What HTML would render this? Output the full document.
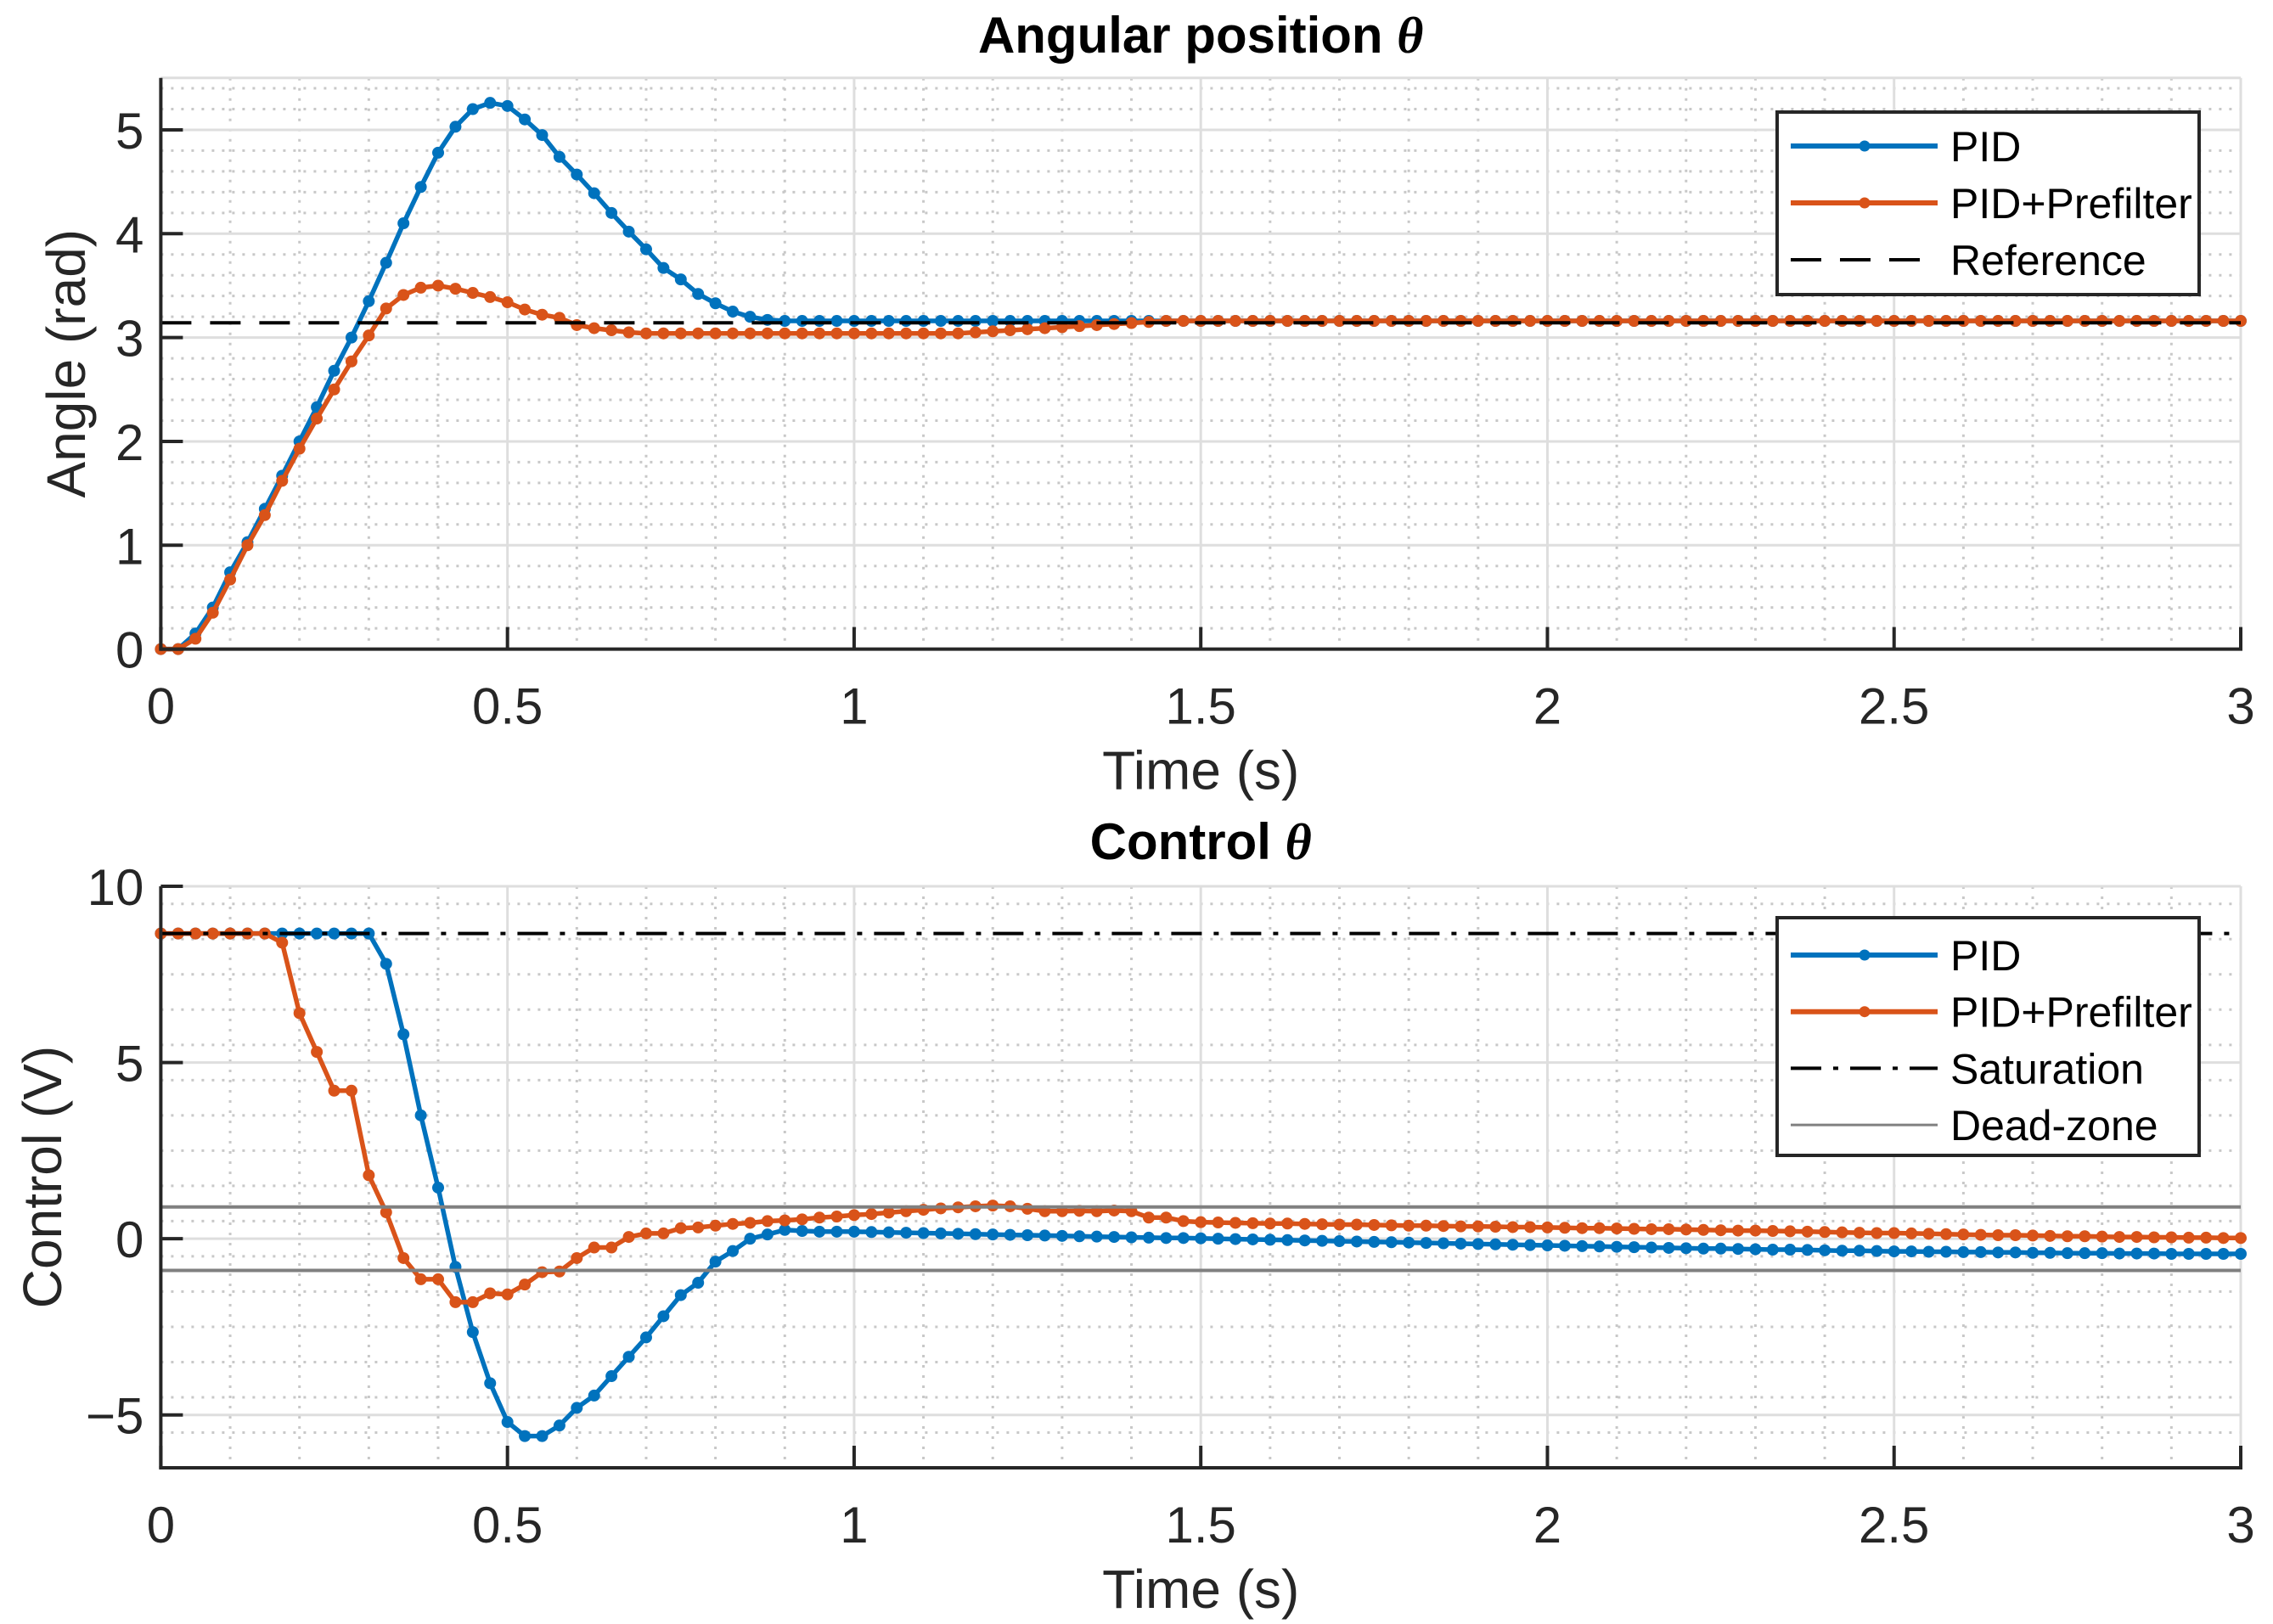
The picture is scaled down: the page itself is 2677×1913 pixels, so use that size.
<!DOCTYPE html>
<html><head><meta charset="utf-8"><style>
html,body{margin:0;padding:0;background:#fff;}
svg{display:block;font-family:"Liberation Sans",Arial,sans-serif;}
</style></head><body>
<svg id="fig" xmlns="http://www.w3.org/2000/svg" width="2677" height="1913" viewBox="0 0 2677 1913"></svg>
<script>
// ---- data (t = index * dt) ----
const dt = 0.025;
const angPID = [0,0,0.15,0.4,0.74,1.03,1.35,1.67,2.0,2.33,2.68,3.0,3.35,3.72,4.1,4.45,4.78,5.03,5.2,5.26,5.23,5.1,4.95,4.74,4.57,4.39,4.2,4.02,3.85,3.67,3.56,3.42,3.33,3.25,3.2,3.17,
3.16,3.16,3.16,3.16,3.16,3.16,3.16,3.16,3.16,3.16,3.16,3.16,3.16,3.16,3.16,3.16,3.16,3.16,3.16,3.16,3.16,3.16,3.16,3.16,3.16,3.16,3.16,3.16,3.16,3.16,3.16,3.16,3.16,3.16,
3.16,3.16,3.16,3.16,3.16,3.16,3.16,3.16,3.16,3.16,3.16,3.16,3.16,3.16,3.16,3.16,3.16,3.16,3.16,3.16,3.16,3.16,3.16,3.16,3.16,3.16,3.16,3.16,3.16,3.16,
3.16,3.16,3.16,3.16,3.16,3.16,3.16,3.16,3.16,3.16,3.16,3.16,3.16,3.16,3.16,3.16,3.16,3.16,3.16,3.16,3.16];
const angPre = [0,0,0.1,0.35,0.67,1.0,1.29,1.62,1.93,2.22,2.5,2.77,3.02,3.28,3.41,3.48,3.5,3.47,3.43,3.39,3.34,3.27,3.22,3.19,3.12,3.09,3.07,3.05,
3.04,3.04,3.04,3.04,3.04,3.04,3.04,3.04,3.04,3.04,3.04,3.04,3.04,3.04,3.04,3.04,3.04,3.04,3.04,
3.05,3.06,3.07,3.08,3.09,3.1,3.11,3.12,3.13,3.14,3.15,
3.16,3.16,3.16,3.16,3.16,3.16,3.16,3.16,3.16,3.16,3.16,3.16,3.16,3.16,3.16,3.16,3.16,3.16,3.16,3.16,3.16,3.16,3.16,3.16,3.16,3.16,3.16,3.16,3.16,3.16,
3.16,3.16,3.16,3.16,3.16,3.16,3.16,3.16,3.16,3.16,3.16,3.16,3.16,3.16,3.16,3.16,3.16,3.16,3.16,3.16,3.16,3.16,3.16,3.16,3.16,3.16,3.16,3.16,3.16,3.16,3.16,3.16,3.16];
const angRef = 3.1416;
const ctlPID = [8.66,8.66,8.66,8.66,8.66,8.66,8.66,8.66,8.66,8.66,8.66,8.66,8.66,
7.8,5.8,3.5,1.45,-0.8,-2.65,-4.1,-5.2,-5.6,-5.6,-5.3,-4.8,-4.45,-3.9,-3.35,-2.8,-2.2,-1.6,-1.25,-0.65,-0.35,0.0,0.12,0.25,0.22,0.2,0.2,0.2,
0.19,0.18,0.17,0.16,0.15,0.14,0.13,0.12,0.11,0.10,0.09,0.08,0.07,0.06,0.05,0.04,0.03,0.02,0.02,0.01,
0.00,-0.01,-0.02,-0.03,-0.04,-0.05,-0.06,-0.07,-0.08,-0.09,-0.10,-0.11,-0.12,-0.13,-0.14,-0.15,-0.16,-0.17,-0.18,-0.19,
-0.20,-0.21,-0.22,-0.23,-0.24,-0.25,-0.26,-0.27,-0.28,-0.28,-0.29,-0.30,-0.31,-0.31,-0.32,-0.33,-0.34,-0.34,-0.35,-0.36,
-0.36,-0.37,-0.37,-0.38,-0.38,-0.39,-0.39,-0.40,-0.40,-0.41,-0.41,-0.41,-0.42,-0.42,-0.42,-0.43,-0.43,-0.43,-0.43,-0.43];
const ctlPre = [8.66,8.66,8.66,8.66,8.66,8.66,8.66,
8.4,6.4,5.3,4.2,4.2,1.8,0.75,-0.55,-1.15,-1.15,-1.8,-1.8,-1.55,-1.58,-1.3,-0.95,-0.93,-0.55,-0.25,-0.25,0.05,0.15,0.15,0.3,0.32,0.37,0.42,0.45,0.5,0.52,0.55,
0.6,0.63,0.67,0.7,0.74,0.78,0.82,0.86,0.89,0.92,0.94,0.92,0.85,0.78,0.78,0.79,0.78,0.8,0.78,0.6,0.6,0.5,0.47,
0.46,0.45,0.44,0.43,0.43,0.42,0.41,0.40,0.40,0.39,0.38,0.37,0.37,0.36,0.35,0.35,0.34,0.33,0.33,0.32,
0.31,0.30,0.30,0.29,0.28,0.27,0.27,0.26,0.25,0.24,0.23,0.23,0.22,0.21,0.20,0.19,0.18,0.17,0.16,0.16,
0.15,0.14,0.13,0.12,0.11,0.10,0.10,0.09,0.08,0.07,0.07,0.06,0.05,0.05,0.04,0.04,0.03,0.03,0.02,0.02];
const satLevel = 8.66;
const deadZone = [0.9, -0.9];
const xTicks = [0,0.5,1,1.5,2,2.5,3];
const xTickLabels = ["0","0.5","1","1.5","2","2.5","3"];
const angTicks = [0,1,2,3,4,5];
const ctlTicks = [-5,0,5,10];
const ctlTickLabels = ["\u22125","0","5","10"];

// ---- drawing ----
const NS = "http://www.w3.org/2000/svg";
const svg = document.getElementById('fig');
function mk(tag, attrs, parent){
  const e = document.createElementNS(NS, tag);
  for (const k in attrs) e.setAttribute(k, attrs[k]);
  (parent||svg).appendChild(e);
  return e;
}
const BLUE="#0072BD", ORANGE="#D95319", AX="#262626";
const XL=189.4, XR=2639, TMAX=3;
function sx(t){ return XL + (t/TMAX)*(XR-XL); }

function drawAxes(cfg){
  const g = mk('g',{});
  
  
  const sy = v => cfg.y0 + (v - cfg.vmin)/(cfg.vmax - cfg.vmin)*(cfg.y1 - cfg.y0);
  const yTop = sy(cfg.vmax), yBot = sy(cfg.vmin);
  const mg = mk('g',{stroke:"#c8c8c8","stroke-width":3,"stroke-dasharray":"3 9"},g);
  
  
  for (let k=1;k<30;k++){ if(k%5===0) continue; const x=sx(k*0.1); mk('line',{x1:x,x2:x,y1:yTop,y2:yBot},mg); }
  for (let v=cfg.vmin; v<=cfg.vmax+1e-9; v+=cfg.minor){
    const r=Math.round(v*1000)/1000; if (Math.abs(r/cfg.major-Math.round(r/cfg.major))<1e-6) continue;
    mk('line',{x1:XL,x2:XR,y1:sy(r),y2:sy(r)},mg);
  }
  const Mg = mk('g',{stroke:"#dedede","stroke-width":3},g);
  
  
  xTicks.forEach(t=>{ if(t>0) mk('line',{x1:sx(t),x2:sx(t),y1:yTop,y2:yBot},Mg); });
  cfg.ticks.forEach(v=>mk('line',{x1:XL,x2:XR,y1:sy(v),y2:sy(v)},Mg));
  mk('line',{x1:XL,x2:XR,y1:yTop,y2:yTop},Mg);
  function series(arr,color,name){
    const a = arr.filter((v,i)=>i*dt <= TMAX+1e-9);
    const sg = mk('g',{},g);
    
    
    const pts = a.map((v,i)=>sx(i*dt).toFixed(1)+','+sy(v).toFixed(1)).join(' ');
    mk('polyline',{points:pts,fill:"none",stroke:color,"stroke-width":5.5,"stroke-linejoin":"round"},sg);
    a.forEach((v,i)=>{
      const c = mk('circle',{cx:sx(i*dt),cy:sy(v),r:7,fill:color},sg);
      
      
    });
  }
  cfg.draw(series, sy, g);
  const ag = mk('g',{stroke:AX,"stroke-width":4,fill:"none"},g);
  
  
  mk('line',{x1:XL,x2:XL,y1:yTop,y2:yBot+2},ag);
  mk('line',{x1:XL-2,x2:XR+2,y1:yBot,y2:yBot},ag);
  xTicks.forEach(t=>mk('line',{x1:sx(t),x2:sx(t),y1:yBot,y2:yBot-26},ag));
  cfg.ticks.forEach(v=>mk('line',{x1:XL,x2:XL+26,y1:sy(v),y2:sy(v)},ag));
  xTicks.forEach((t,i)=>{
    const tx = mk('text',{x:sx(t),y:yBot+88,"font-size":60,fill:AX,"text-anchor":"middle"},g);
    tx.textContent = xTickLabels[i];
    
    
  });
  cfg.ticks.forEach((v,i)=>{
    const tx = mk('text',{x:XL-20,y:sy(v)+22,"font-size":60,fill:AX,"text-anchor":"end"},g);
    tx.textContent = cfg.tickLabels[i];
    
    
  });
  const xt = mk('text',{x:(XL+XR)/2,y:yBot+165,"font-size":64,fill:AX,"text-anchor":"middle"},g);
  xt.textContent = "Time (s)";
  
  
  const ym = (yTop+yBot)/2;
  const yt = mk('text',{x:cfg.ylabX,y:ym,"font-size":64,fill:AX,"text-anchor":"middle",transform:`rotate(-90 ${cfg.ylabX} ${ym})`},g);
  yt.textContent = cfg.ylabel;
  
  
  const tt = mk('text',{x:(XL+XR)/2,y:cfg.titleY,"font-size":60,"font-weight":"bold",fill:"#000","text-anchor":"middle"},g);
  tt.textContent = cfg.title + " ";
  const th = mk('tspan',{"font-family":"Liberation Serif, serif","font-style":"italic"},tt);
  th.textContent = "\u03B8";
  
  
  const lg = mk('g',{},g);
  
  
  const L = cfg.legend;
  mk('rect',{x:2093,y:L.top,width:497,height:L.h,fill:"#fff",stroke:AX,"stroke-width":4},lg);
  L.items.forEach((it,i)=>{
    const y = L.y0 + i*L.step;
    const eg = mk('g',{},lg);
    
    
    mk('line',{x1:2109,x2:2282,y1:y,y2:y,stroke:it.c,"stroke-width":it.w,"stroke-dasharray":it.d||"none"},eg);
    if (it.m) mk('circle',{cx:2196,cy:y,r:6.5,fill:it.c},eg);
    const tx = mk('text',{x:2297,y:y+18,"font-size":50,fill:"#000"},eg);
    tx.textContent = it.t;
  });
}

drawAxes({
  name:'angle-chart', y0:764.6, y1:91.8, vmin:0, vmax:5.5, major:1, minor:0.2,
  ticks:angTicks, tickLabels:angTicks.map(String), ylabel:"Angle (rad)", ylabX:100, title:"Angular position", titleY:62,
  draw:(series, sy, g)=>{
    series(angPID, BLUE, 'pid-angle-series');
    series(angPre, ORANGE, 'prefilter-angle-series');
    const r = mk('line',{x1:XL,x2:XR,y1:sy(angRef),y2:sy(angRef),stroke:"#000","stroke-width":4,"stroke-dasharray":"36 22"},g);
    
    
  },
  legend:{top:132,h:215,y0:172,step:67,items:[
    {t:"PID",c:BLUE,w:6,m:true},{t:"PID+Prefilter",c:ORANGE,w:6,m:true},{t:"Reference",c:"#000",w:4,d:"36 22"}]}
});

drawAxes({
  name:'control-chart', y0:1729, y1:1044, vmin:-6.5, vmax:10, major:5, minor:1,
  ticks:ctlTicks, tickLabels:ctlTickLabels, ylabel:"Control (V)", ylabX:72, title:"Control", titleY:1012,
  draw:(series, sy, g)=>{
    series(ctlPID, BLUE, 'pid-control-series');
    series(ctlPre, ORANGE, 'prefilter-control-series');
    const s = mk('line',{x1:XL,x2:XR,y1:sy(satLevel),y2:sy(satLevel),stroke:"#000","stroke-width":4,"stroke-dasharray":"36 14 6 14"},g);
    
    
    deadZone.forEach(v=>{
      const d = mk('line',{x1:XL,x2:XR,y1:sy(v),y2:sy(v),stroke:"#808080","stroke-width":4},g);
      
      
    });
  },
  legend:{top:1081,h:280,y0:1125,step:66.7,items:[
    {t:"PID",c:BLUE,w:6,m:true},{t:"PID+Prefilter",c:ORANGE,w:6,m:true},{t:"Saturation",c:"#000",w:4,d:"36 14 6 14"},{t:"Dead-zone",c:"#808080",w:3}]}
});
</script>
</body></html>
